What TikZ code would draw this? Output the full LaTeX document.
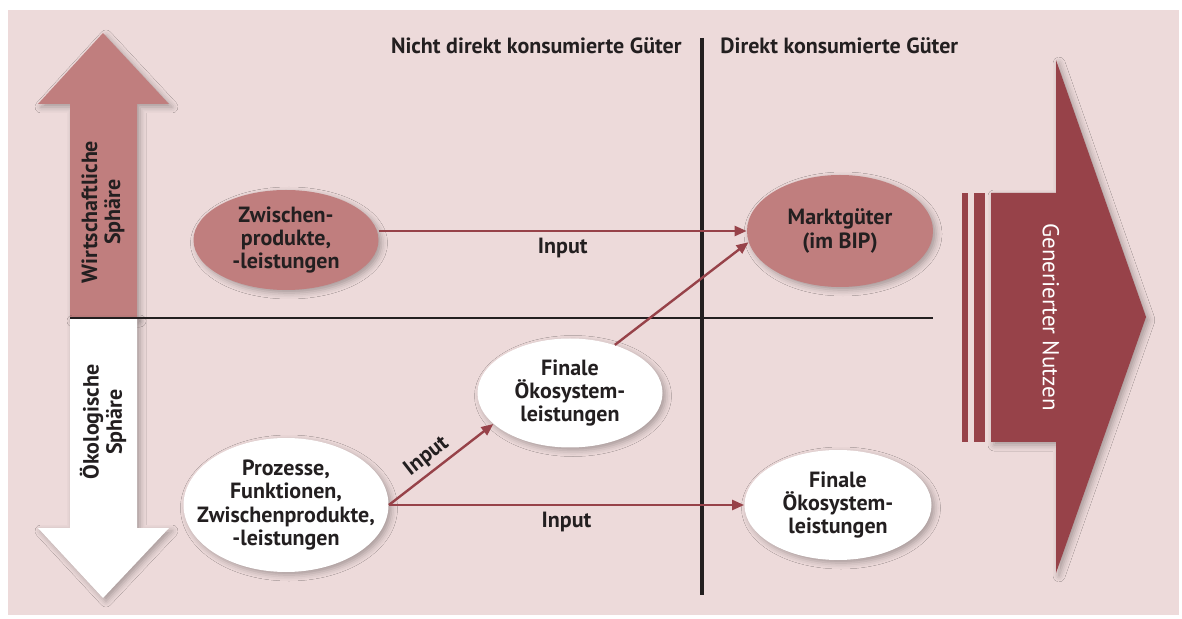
\documentclass[tikz,border=0pt]{standalone}
\usepackage{fontspec}
\setmainfont{PT Sans}
\usetikzlibrary{positioning,arrows.meta,shapes.geometric,shadows.blur}
\definecolor{bgpink}{HTML}{EDDADA}
\definecolor{rose}{HTML}{C07E7E}
\definecolor{darkrose}{HTML}{974249}
\definecolor{inkblack}{HTML}{231F20}
\tikzstyle{inputarrow} = [darkrose,line width=1.2pt,-{Triangle[length=6pt,width=5pt]}]
\tikzstyle{softshadow} = [blur shadow={shadow xshift=1.5pt,shadow yshift=-1.5pt,shadow blur radius=3pt,shadow opacity=30}]
\tikzstyle{ball} = [ellipse,inner sep=0pt,softshadow]
\tikzstyle{lbl} = [align=center,font=\fontsize{11}{11.6}\selectfont\bfseries,text=inkblack,inner sep=1pt]

\begin{document}
\begin{tikzpicture}[x=0.5pt,y=-0.5pt]
\useasboundingbox (0,0) rectangle (1182,619);
\fill[bgpink] (8,10) rectangle (1179,615);

% spheres
\fill[rose,softshadow] (70,318) -- (70,104) -- (38,104) -- (103,33) -- (169,104) -- (137,104) -- (137,318) -- cycle;
\fill[white,softshadow] (70,318) -- (70,528) -- (38,528) -- (103,598) -- (169,528) -- (137,528) -- (137,318) -- cycle;
\node[lbl,rotate=90] (wirtschaft) at (103,212) {Wirtschaftliche\\Sphäre};
\node[lbl,rotate=90] (oeko) at (103,422) {Ökologische\\Sphäre};

% generated benefit
\fill[darkrose,softshadow] (991,193) -- (1056,193) -- (1056,60) -- (1146,317) -- (1056,573) -- (1056,442) -- (991,442) -- cycle;
\fill[darkrose] (962,193) rectangle (968,442);
\fill[darkrose] (974,193) rectangle (985,442);
\node[lbl,rotate=-90,text=white,font=\fontsize{11.5}{12}\selectfont] (nutzen) at (1051,317) {Generierter Nutzen};

% axes
\coordinate (hl) at (70,318);
\coordinate (hr) at (933,318);
\coordinate (vt) at (702,38);
\coordinate (vb) at (702,595);
\draw[inkblack,line width=1.4pt] (hl) -- (hr);
\draw[inkblack,line width=2.3pt] (vt) -- (vb);
\node[lbl,anchor=east] (nicht) at (684,46) {Nicht direkt konsumierte Güter};
\node[lbl,anchor=west] (direkt) at (718,46) {Direkt konsumierte Güter};

% goods
\node[ball,fill=rose,minimum width=92.5pt,minimum height=50pt,
  label={[lbl]center:Zwischen-\\produkte,\\-leistungen}] (zwischen) at (286,240) {};
\node[ball,fill=rose,minimum width=93pt,minimum height=56pt,
  label={[lbl]center:Marktgüter\\(im BIP)}] (markt) at (840,231) {};
\node[ball,fill=white,minimum width=92.5pt,minimum height=54.5pt,
  label={[lbl]center:Finale\\Ökosystem-\\leistungen}] (finaleM) at (570,393) {};
\node[ball,fill=white,minimum width=102.5pt,minimum height=67pt,
  label={[lbl]center:Prozesse,\\Funktionen,\\Zwischenprodukte,\\-leistungen}] (prozesse) at (286,505) {};
\node[ball,fill=white,minimum width=93.5pt,minimum height=55pt,
  label={[lbl]center:Finale\\Ökosystem-\\leistungen}] (finaleR) at (838,505) {};

\draw[inputarrow] (zwischen.east |- markt.west) -- node[lbl,below=2pt] {Input} (markt.west);
\draw[inputarrow] (finaleM.47) -- (markt.187);
\draw[inputarrow] (prozesse.east) -- node[lbl,above=1pt,sloped,pos=0.45] {Input} (finaleM.202);
\draw[inputarrow] (prozesse.east) -- node[lbl,below=2pt] {Input} (finaleR.west);
\end{tikzpicture}
\end{document}
